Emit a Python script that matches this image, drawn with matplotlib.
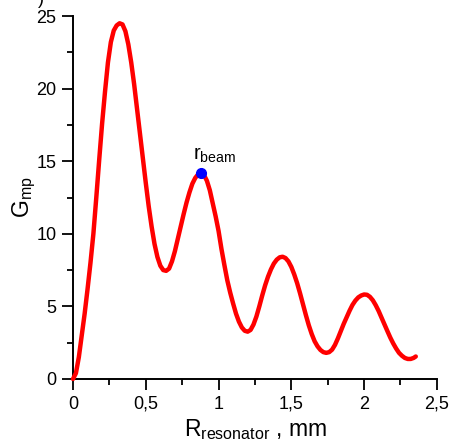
import matplotlib
matplotlib.use("Agg")
import matplotlib.pyplot as plt
from matplotlib.ticker import MultipleLocator, FixedLocator, FixedFormatter

plt.rcParams['font.family'] = ['Liberation Sans', 'DejaVu Sans']
plt.rcParams['mathtext.fontset'] = 'custom'
plt.rcParams['mathtext.rm'] = 'Liberation Sans'
plt.rcParams['mathtext.it'] = 'Liberation Sans:italic'

# curve
r_res = [0.00, 0.02, 0.04, 0.06, 0.08, 0.10, 0.12, 0.14, 0.16, 0.18, 0.20,
         0.22, 0.24, 0.26, 0.28, 0.30, 0.32, 0.34, 0.36, 0.38, 0.40, 0.42,
         0.44, 0.46, 0.48, 0.50, 0.52, 0.54, 0.56, 0.58, 0.60, 0.62, 0.64,
         0.66, 0.68, 0.70, 0.72, 0.74, 0.76, 0.78, 0.80, 0.82, 0.84, 0.86,
         0.88, 0.90, 0.92, 0.94, 0.96, 0.98, 1.00, 1.02, 1.04, 1.06, 1.08,
         1.10, 1.12, 1.14, 1.16, 1.18, 1.20, 1.22, 1.24, 1.26, 1.28, 1.30,
         1.32, 1.34, 1.36, 1.38, 1.40, 1.42, 1.44, 1.46, 1.48, 1.50, 1.52,
         1.54, 1.56, 1.58, 1.60, 1.62, 1.64, 1.66, 1.68, 1.70, 1.72, 1.74,
         1.76, 1.78, 1.80, 1.82, 1.84, 1.86, 1.88, 1.90, 1.92, 1.94, 1.96,
         1.98, 2.00, 2.02, 2.04, 2.06, 2.08, 2.10, 2.12, 2.14, 2.16, 2.18,
         2.20, 2.22, 2.24, 2.26, 2.28, 2.30, 2.32, 2.34, 2.355]
g_mp = [0.0, 0.4, 1.5, 3.0, 4.5, 6.2, 8.0, 10.0, 12.5, 15.1, 17.6,
        19.8, 21.8, 23.2, 24.0, 24.35, 24.5, 24.42, 23.95, 23.05, 21.8, 20.3,
        18.6, 16.9, 15.2, 13.5, 11.9, 10.5, 9.3, 8.4, 7.8, 7.5, 7.45,
        7.6, 8.1, 8.8, 9.65, 10.5, 11.35, 12.15, 12.85, 13.45, 13.85, 14.1,
        14.2, 14.05, 13.65, 13.0, 12.1, 11.2, 10.2, 8.95, 7.85, 6.8, 5.95,
        5.2, 4.5, 3.95, 3.55, 3.32, 3.26, 3.38, 3.75, 4.3, 5.0, 5.75,
        6.45, 7.05, 7.55, 7.95, 8.22, 8.38, 8.42, 8.33, 8.1, 7.72, 7.2,
        6.6, 5.9, 5.15, 4.4, 3.7, 3.1, 2.6, 2.25, 2.0, 1.85, 1.8,
        1.85, 2.02, 2.35, 2.8, 3.3, 3.8, 4.25, 4.7, 5.1, 5.4, 5.62,
        5.75, 5.82, 5.8, 5.66, 5.42, 5.08, 4.68, 4.22, 3.76, 3.3, 2.85,
        2.45, 2.1, 1.8, 1.6, 1.45, 1.38, 1.38, 1.45, 1.55]

beam_x = 0.879
beam_y = 14.17

xticks = [0, 0.5, 1, 1.5, 2, 2.5]
xtick_labels = ['0', '0,5', '1', '1,5', '2', '2,5']
yticks = [0, 5, 10, 15, 20, 25]

fig = plt.figure(figsize=(4.49, 4.41), dpi=100)
ax = fig.add_axes([0.1626, 0.1406, 0.8104, 0.8231])

ax.plot(r_res, g_mp, color='#ff0000', lw=3.2, solid_capstyle='round',
        solid_joinstyle='round', clip_on=False, zorder=3)
ax.plot([beam_x], [beam_y], 'o', color='#0000ff', ms=7, clip_on=False, zorder=4)
ax.text(0.822, 15.1, r'r$_{\mathrm{beam}}$', fontsize=14.5)

ax.set_xlim(0, 2.5)
ax.set_ylim(0, 25)
for s in ['top', 'right']:
    ax.spines[s].set_visible(False)
for s in ['left', 'bottom']:
    ax.spines[s].set_linewidth(1.4)

ax.xaxis.set_major_locator(FixedLocator(xticks))
ax.xaxis.set_major_formatter(FixedFormatter(xtick_labels))
ax.xaxis.set_minor_locator(MultipleLocator(0.25))
ax.yaxis.set_major_locator(FixedLocator(yticks))
ax.yaxis.set_minor_locator(MultipleLocator(2.5))
ax.tick_params(which='major', direction='out', length=8, width=1.3, labelsize=13, pad=4)
ax.tick_params(which='minor', direction='out', length=4, width=1.3)

ax.set_xlabel(r'R$_{\mathrm{resonator}}$ , mm', fontsize=16.5, labelpad=3)
ax.set_ylabel(r'G$_{\mathrm{mp}}$', fontsize=16.5)
ax.yaxis.set_label_coords(-0.096, 0.5)

fig.text(0.085, 1.0, ')', fontsize=13, va='center')

fig.savefig('out.png', dpi=100)
